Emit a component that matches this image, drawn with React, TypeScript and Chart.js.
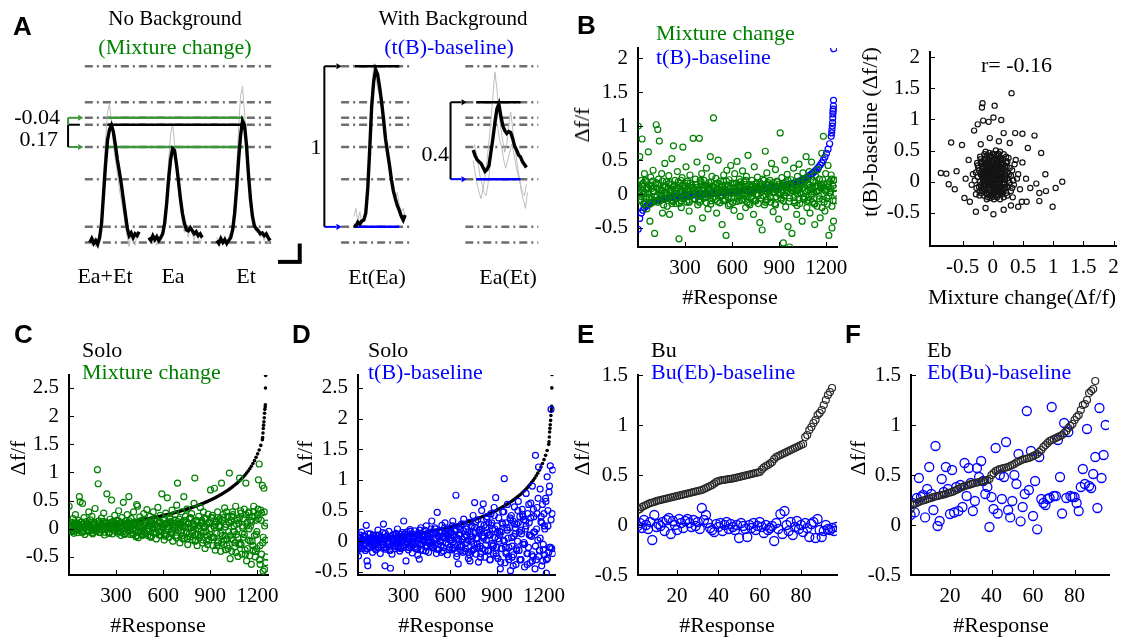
import React, { useEffect, useRef } from "react";
import { Chart, registerables } from "chart.js";

Chart.register(...registerables);

// ---------------- DATA ----------------
// Panel A: averaged traces (Δf/f), sampled every 2 frames
const traceMixEaEt = [-0.012, 0.012, -0.018, 0, -0.024, 0.018, 0.109, 0.291, 0.473, 0.624, 0.69, 0.718, 0.675, 0.594, 0.503, 0.43, 0.352, 0.261, 0.17, 0.079, 0.03, 0.048, 0.018, 0.042, 0.03, 0.055];
const traceEa = [0.018, 0, 0.03, 0.006, 0.024, 0, 0.018, 0.042, 0.109, 0.23, 0.382, 0.503, 0.572, 0.56, 0.473, 0.37, 0.261, 0.17, 0.109, 0.067, 0.061, 0.079, 0.061, 0.042, 0.055, 0.03, 0.042, 0.018];
const traceEt = [0, -0.018, 0.012, -0.012, 0.006, -0.018, 0, 0.018, 0.067, 0.17, 0.321, 0.503, 0.655, 0.745, 0.72, 0.594, 0.412, 0.261, 0.152, 0.091, 0.073, 0.061, 0.042, 0.048, 0.03, 0.042, 0.018, 0];
const traceEtInEa = [0.097, 0.091, 0.115, 0.103, 0.121, 0.127, 0.17, 0.321, 0.564, 0.836, 0.988, 1.065, 1.036, 0.958, 0.867, 0.758, 0.636, 0.552, 0.473, 0.382, 0.309, 0.261, 0.218, 0.188, 0.152, 0.127, 0.158];
const traceEaInEt = [0.564, 0.527, 0.503, 0.491, 0.479, 0.455, 0.43, 0.442, 0.467, 0.552, 0.636, 0.733, 0.818, 0.85, 0.776, 0.715, 0.685, 0.667, 0.679, 0.673, 0.636, 0.588, 0.564, 0.533, 0.521, 0.491, 0.473, 0.455];
// single-trial traces (gray)
const trialMixEaEt = [0.0, -0.03, 0.02, -0.04, 0.01, 0.03, 0.15, 0.4, 0.62, 0.8, 0.85, 0.74, 0.6, 0.5, 0.42, 0.32, 0.25, 0.18, 0.1, 0.02, -0.04, 0.06, 0.0, -0.03, 0.05, 0.02];
const trialEa = [0.0, 0.03, -0.02, 0.01, -0.03, 0.02, 0.0, 0.06, 0.15, 0.3, 0.5, 0.66, 0.73, 0.6, 0.45, 0.3, 0.2, 0.12, 0.05, 0.08, 0.02, 0.1, 0.04, 0.0, 0.06, 0.02, -0.02, 0.03];
const trialEt = [0.02, -0.03, 0.0, -0.02, 0.03, -0.04, 0.02, 0.05, 0.1, 0.25, 0.45, 0.7, 0.9, 0.96, 0.8, 0.62, 0.45, 0.3, 0.18, 0.1, 0.05, 0.08, 0.02, 0.04, 0.0, 0.05, -0.02, 0.01];
const trialEtInEa = [0.15, 0.2, 0.12, 0.18, 0.1, 0.14, 0.2, 0.35, 0.6, 0.9, 1.1, 1.02, 0.95, 0.9, 0.82, 0.7, 0.6, 0.5, 0.42, 0.35, 0.3, 0.25, 0.3, 0.22, 0.18, 0.2, 0.15];
const trialEaInEt1 = [0.5, 0.42, 0.35, 0.3, 0.26, 0.32, 0.4, 0.5, 0.62, 0.75, 0.9, 1.05, 0.95, 0.8, 0.7, 0.62, 0.55, 0.6, 0.72, 0.8, 0.7, 0.6, 0.5, 0.42, 0.35, 0.3, 0.28, 0.35];
const trialEaInEt2 = [0.6, 0.55, 0.48, 0.4, 0.35, 0.3, 0.28, 0.35, 0.45, 0.6, 0.7, 0.78, 0.7, 0.62, 0.58, 0.5, 0.45, 0.5, 0.55, 0.6, 0.55, 0.48, 0.42, 0.38, 0.3, 0.25, 0.2, 0.3];
const refLevels = [1.085, 0.861, 0.764, 0.721, 0.582, 0.382, 0.085, -0.012];
const mixPeakLevels = [0.764, 0.582]; // Et, Ea peaks (green)
const mixSumLevel = 0.721; // Ea+Et peak (black)
const etInEaLevels = [1.085, 0.085]; // peak, baseline
const eaInEtLevels = [0.861, 0.382];
const scaleBarLevels = [-0.018, -0.133];

// Panel B (left): sorted t(B)-baseline, every 10th response + tail
const bBaselineSorted = [-0.52, -0.36, -0.28, -0.24, -0.2, -0.18, -0.16, -0.145, -0.13, -0.12, -0.11, -0.1, -0.093, -0.087, -0.081, -0.076, -0.071, -0.066, -0.062, -0.058, -0.054, -0.05, -0.047, -0.044, -0.041, -0.038, -0.035, -0.032, -0.03, -0.027, -0.025, -0.022, -0.02, -0.018, -0.016, -0.013, -0.011, -0.009, -0.007, -0.005, -0.003, -0.001, 0.001, 0.003, 0.005, 0.007, 0.009, 0.011, 0.013, 0.015, 0.017, 0.019, 0.021, 0.023, 0.025, 0.027, 0.029, 0.031, 0.033, 0.035, 0.037, 0.039, 0.041, 0.043, 0.045, 0.047, 0.049, 0.051, 0.053, 0.055, 0.057, 0.059, 0.061, 0.063, 0.066, 0.068, 0.07, 0.073, 0.075, 0.078, 0.08, 0.083, 0.086, 0.089, 0.092, 0.095, 0.098, 0.101, 0.105, 0.109, 0.113, 0.117, 0.121, 0.126, 0.131, 0.136, 0.142, 0.148, 0.154, 0.161, 0.168, 0.176, 0.184, 0.193, 0.203, 0.214, 0.226, 0.239, 0.253, 0.268, 0.285, 0.303, 0.323, 0.345, 0.369, 0.396, 0.426, 0.46, 0.5, 0.545, 0.6, 0.66, 0.74, 0.85];
const bBaselineTail = [[1234, 0.9], [1236, 0.95], [1238, 1.0], [1240, 1.05], [1241, 1.12], [1242, 1.18], [1243, 1.22], [1244, 1.25], [1245, 1.3], [1246, 1.38], [1247, 2.14]];
// Mixture change, every 5th response
const bMixture = [
  1.0, 0.12, 0.55, -0.08, 0.2, 0.81, 0.05, -0.15, 0.3, 0.02, 0.18, -0.22,
  0.1, 0.62, -0.05, -0.4, 0.25, 0.08, -0.12, 0.35, 0.04, -0.58, 0.15, 1.02,
  -0.02, 0.95, 0.22, 0.78, -0.1, 0.06, 0.3, -0.28, 0.12, 0.01, 0.45, -0.06,
  0.18, -0.18, 0.09, 0.27, -0.3, 0.04, 0.14, 0.52, -0.09, 0.71, 0.02, 0.2,
  -0.14, 0.08, 0.33, -0.04, -0.66, 0.16, 0.05, -0.2, 0.24, 0.69, -0.07, 0.11,
  0.03, 0.4, -0.12, 0.19, 0.07, -0.25, 0.28, 0.0, 0.13, -0.51, 0.82, 0.06,
  -0.08, 0.22, 0.1, 0.47, -0.16, 0.05, 0.82, -0.03, 0.15, 0.3, -0.35, 0.09,
  0.2, -0.06, 0.12, 0.38, 0.02, -0.22, 0.17, 0.07, 0.55, -0.1, 0.26, 0.04,
  1.12, -0.04, 0.14, 0.23, -0.28, 0.08, 0.5, 0.01, -0.13, 0.19, 0.1, -0.45,
  0.06, 0.28, -0.09, 0.13, -0.61, 0.35, 0.03, -0.17, 0.21, 0.09, 0.42, -0.05,
  0.16, 0.02, -0.24, 0.3, 0.07, -0.11, 0.48, 0.12, -0.02, 0.22, -0.33, 0.05,
  0.1, 0.34, -0.07, 0.18, 0.0, -0.2, 0.26, 0.08, 0.57, -0.14, 0.13, 0.04,
  -0.05, 0.2, 0.11, -0.3, 0.4, 0.06, -0.1, 0.15, 0.25, -0.02, 0.09, -0.42,
  0.14, 0.03, -0.53, 0.22, 0.1, -0.16, 0.63, 0.05, 0.31, -0.08, 0.17, 0.01,
  0.2, -0.12, 0.45, 0.07, -0.26, 0.12, 0.02, 0.36, -0.04, 0.19, 0.08, -0.37,
  0.11, 0.9, -0.06, 0.24, 0.04, -0.72, 0.16, 0.5, -0.19, 0.07, 0.29, -0.48,
  0.13, -0.78, 0.02, 0.21, -0.58, 0.09, 0.38, -0.1, 0.17, 0.05, -0.3, 0.26,
  0.06, 0.44, -0.14, 0.19, 0.0, -0.4, 0.31, 0.1, -0.07, 0.23, 0.55, -0.2,
  0.15, -0.05, 0.33, -0.28, 0.08, 0.47, -0.12, 0.2, 0.03, -0.45, 0.27, 0.11,
  -0.18, 0.36, 0.05, 0.22, -0.35, 0.14, 0.6, -0.08, 0.85, 0.1, -0.25, 0.3,
  0.07, -0.15, 0.42, -0.61, 0.18, 0.02, 0.28, -0.5, 0.12, -0.4, 0.21, -0.1,
];
// Mixture change, responses 6, 16, 26 ... (dense core)
const bMixtureCore = [
  0.05, -0.1, 0.14, 0.0, 0.2, -0.06, 0.09, -0.15, 0.12, 0.03, -0.04, 0.17,
  -0.12, 0.07, 0.01, 0.19, -0.08, 0.1, -0.02, 0.15, 0.04, -0.14, 0.11, 0.06,
  -0.05, 0.18, 0.0, -0.1, 0.13, 0.08, -0.03, 0.16, -0.12, 0.05, 0.1, -0.07,
  0.14, 0.02, -0.09, 0.2, 0.06, -0.04, 0.12, -0.13, 0.08, 0.0, 0.17, -0.06,
  0.1, 0.03, -0.11, 0.15, 0.05, -0.02, 0.19, -0.08, 0.07, 0.12, -0.15, 0.04,
  0.09, -0.05, 0.16, 0.01, -0.1, 0.13, 0.06, -0.03, 0.2, -0.12, 0.08, 0.02,
  0.14, -0.07, 0.11, 0.0, -0.14, 0.17, 0.04, -0.02, 0.1, -0.09, 0.15, 0.06,
  -0.05, 0.12, 0.03, -0.16, 0.18, 0.07, -0.01, 0.13, -0.1, 0.09, 0.02, 0.2,
  -0.06, 0.11, 0.05, -0.13, 0.16, 0.0, -0.08, 0.14, 0.08, -0.04, 0.19, -0.11,
  0.06, 0.1, -0.02, 0.17, -0.15, 0.03, 0.12, -0.07, 0.09, 0.21, -0.12, 0.04,
  0.15, -0.03, 0.08, -0.18, 0.2, 0.01,
];
// Mixture change, responses 3, 13, 23 ...
const bMixtureCore2 = [
  0.1, -0.04, 0.02, 0.16, -0.12, 0.07, 0.0, 0.13, -0.07, 0.19, 0.04, -0.1,
  0.08, 0.15, -0.03, 0.05, -0.16, 0.11, 0.02, -0.06, 0.17, 0.06, -0.11, 0.13,
  0.01, 0.09, -0.14, 0.2, 0.03, -0.05, 0.12, 0.07, -0.09, 0.16, -0.01, 0.1,
  -0.07, 0.14, 0.05, -0.12, 0.18, 0.0, 0.09, -0.04, 0.13, 0.06, -0.15, 0.11,
  0.03, -0.08, 0.16, 0.07, -0.02, 0.12, -0.1, 0.05, 0.19, -0.05, 0.08, 0.01,
  -0.13, 0.15, 0.04, -0.06, 0.11, 0.18, -0.09, 0.02, 0.14, -0.03, 0.07, -0.16,
  0.1, 0.05, -0.1, 0.16, 0.0, 0.12, -0.06, 0.08, 0.2, -0.12, 0.03, 0.13,
  -0.04, 0.09, 0.17, -0.14, 0.06, 0.01, 0.15, -0.08, 0.11, -0.02, 0.18, 0.04,
  -0.11, 0.14, 0.07, -0.05, 0.12, -0.17, 0.1, 0.02, 0.16, -0.07, 0.05, 0.21,
  -0.09, 0.13, 0.0, 0.08, -0.14, 0.17, 0.04, -0.03, 0.11, -0.2, 0.15, 0.06,
  -0.06, 0.12, 0.02, 0.22, -0.1, 0.08,
];

// Panel B (right): [mixture change, t(B)-baseline] pairs
const bPairsCore = [
  [-0.02, 0.05], [0.05, 0.1], [-0.1, 0.0], [0.12, -0.05], [0.0, 0.2], [-0.15, 0.12], [0.08, 0.25], [-0.05, -0.1], [0.2, 0.05], [-0.2, -0.05],
  [0.03, -0.18], [0.15, 0.15], [-0.08, 0.3], [0.1, -0.12], [-0.12, 0.18], [0.25, -0.08], [0.02, 0.35], [-0.25, 0.08], [0.18, 0.28], [-0.03, -0.22],
  [0.06, 0.02], [-0.06, 0.08], [0.1, 0.08], [-0.14, -0.12], [0.22, -0.18], [0.0, -0.05], [-0.18, 0.25], [0.14, 0.38], [-0.1, 0.42], [0.3, 0.1],
  [0.04, 0.15], [-0.04, 0.22], [0.08, -0.2], [-0.22, -0.15], [0.16, -0.02], [-0.3, 0.02], [0.28, 0.22], [0.0, 0.45], [-0.08, -0.25], [0.12, 0.48],
  [0.07, 0.06], [-0.01, -0.02], [0.03, 0.28], [-0.16, 0.04], [0.19, 0.12], [-0.11, -0.18], [0.24, 0.32], [-0.06, 0.14], [0.11, 0.2], [-0.02, 0.12],
  [0.05, -0.08], [-0.09, 0.06], [0.15, -0.15], [-0.19, 0.16], [0.01, 0.08], [0.09, 0.32], [-0.13, 0.35], [0.21, -0.1], [-0.04, 0.0], [0.13, 0.02],
  [0.35, -0.05], [-0.27, -0.1], [0.02, -0.28], [0.32, 0.18], [-0.2, 0.3], [0.06, 0.42], [-0.05, 0.38], [0.18, -0.25], [-0.15, -0.22], [0.26, 0.02],
  [0.0, 0.1], [-0.07, 0.18], [0.04, -0.12], [0.1, 0.12], [-0.12, 0.1], [0.17, 0.22], [-0.02, -0.15], [0.08, 0.18], [-0.17, -0.02], [0.14, -0.08],
  [0.4, 0.05], [-0.33, 0.12], [0.22, 0.4], [-0.24, 0.22], [0.3, -0.15], [0.05, 0.5], [-0.1, -0.28], [0.36, 0.28], [-0.28, -0.2], [0.12, -0.28],
  [0.01, 0.18], [-0.05, 0.28], [0.07, -0.02], [-0.14, 0.22], [0.2, 0.18], [-0.08, -0.06], [0.11, -0.05], [-0.03, 0.32], [0.16, 0.08], [-0.18, 0.08],
  [0.45, -0.12], [-0.35, -0.05], [0.38, 0.35], [0.24, -0.22], [-0.21, 0.4], [0.09, 0.45], [-0.12, 0.48], [0.33, -0.25], [0.42, 0.12], [-0.26, 0.3],
  [0.03, 0.03], [-0.09, 0.12], [0.06, 0.22], [0.13, -0.18], [-0.01, 0.26], [0.19, -0.05], [-0.15, 0.0], [0.02, -0.08], [0.08, 0.1], [-0.06, -0.18],
  [0.27, 0.12], [-0.23, -0.08], [0.15, 0.3], [-0.1, 0.25], [0.05, -0.22], [0.23, 0.25], [-0.19, -0.18], [0.34, 0.02], [-0.04, 0.42], [0.1, 0.38],
];
const bPairsCore2 = [
  [0.0, 0.0], [-0.05, 0.05], [0.04, 0.12], [-0.08, 0.15], [0.1, 0.0], [-0.12, -0.04], [0.06, -0.1], [-0.03, 0.2], [0.14, 0.08], [-0.16, 0.08],
  [0.02, -0.06], [-0.1, 0.22], [0.08, 0.3], [-0.14, 0.28], [0.18, -0.12], [-0.06, -0.14], [0.12, 0.25], [-0.2, 0.12], [0.0, 0.3], [0.16, 0.2],
  [-0.04, 0.1], [0.07, 0.16], [-0.09, -0.1], [0.11, -0.16], [-0.17, 0.2], [0.03, 0.38], [-0.07, 0.34], [0.21, 0.1], [-0.11, 0.04], [0.05, 0.06],
  [-0.02, -0.2], [0.09, -0.04], [-0.13, 0.16], [0.17, 0.35], [-0.21, 0.0], [0.01, 0.24], [0.13, 0.14], [-0.08, 0.26], [0.04, -0.16], [-0.15, -0.08],
  [0.2, 0.24], [-0.01, 0.14], [0.06, 0.28], [-0.18, 0.32], [0.1, 0.42], [-0.06, 0.46], [0.25, 0.15], [-0.23, 0.18], [0.15, -0.2], [-0.1, -0.2],
  [0.03, 0.09], [-0.05, 0.18], [0.08, 0.04], [-0.12, 0.3], [0.12, 0.34], [-0.02, 0.4], [0.19, -0.02], [-0.19, -0.1], [0.07, -0.25], [-0.04, -0.26],
  [0.0, 0.16], [-0.07, 0.0], [0.05, 0.2], [-0.11, 0.12], [0.09, 0.22], [-0.03, 0.06], [0.14, -0.1], [-0.16, 0.24], [0.11, 0.06], [-0.09, 0.38],
  [0.22, 0.3], [-0.25, 0.26], [0.28, -0.02], [-0.22, -0.22], [0.02, 0.44], [-0.14, 0.44], [0.26, 0.38], [0.32, -0.1], [-0.28, 0.15], [0.18, 0.44],
  [0.01, -0.1], [-0.06, 0.24], [0.1, 0.18], [-0.13, 0.06], [0.15, 0.04], [-0.01, 0.34], [0.06, -0.14], [-0.17, -0.14], [0.2, -0.08], [-0.08, 0.1],
  [0.04, 0.02], [-0.1, 0.08], [0.13, 0.28], [-0.05, -0.04], [0.08, 0.36], [-0.2, 0.36], [0.24, 0.06], [-0.15, 0.14], [0.0, -0.24], [0.17, -0.16],
];
const bPairsOutliers = [
  [0.31, 1.42], [-0.17, 1.26], [-0.18, 1.19], [0.03, 1.22], [0.01, 1.03], [-0.16, 0.98], [-0.07, 0.96], [0.14, 0.99], [-0.25, 0.92],
  [-0.69, 0.63], [-0.51, 0.59], [-0.31, 0.82], [0.18, 0.78], [0.37, 0.78], [0.49, 0.77], [0.69, 0.74], [0.58, 0.54], [0.8, 0.46], [0.49, 0.31],
  [0.87, 0.12], [1.15, 0.0], [1.04, -0.1], [0.99, -0.4], [0.77, -0.31], [0.56, -0.32], [0.48, -0.32], [-0.28, -0.48], [0.01, -0.52], [0.18, -0.45],
  [-0.86, 0.14], [-0.77, 0.13], [-0.73, -0.04], [-0.63, -0.12], [-0.47, -0.26], [-0.6, 0.17], [0.72, -0.03], [0.88, -0.15], [0.77, -0.18],
  [-0.4, 0.35], [-0.45, 0.05], [0.55, 0.05], [0.62, -0.1], [-0.38, -0.32], [0.28, 0.62], [-0.05, 0.7], [0.1, 0.65], [-0.2, 0.6], [0.42, -0.4], [0.3, -0.38], [-0.12, -0.42],
];

// Panels C, D: sorted solo responses, every 10th response + tail
const soloSorted = [-0.06, -0.04, -0.03, -0.02, -0.01, -0.005, 0.0, 0.004, 0.008, 0.012, 0.016, 0.02, 0.024, 0.028, 0.031, 0.035, 0.038, 0.041, 0.045, 0.048, 0.051, 0.055, 0.058, 0.061, 0.065, 0.068, 0.072, 0.075, 0.079, 0.083, 0.087, 0.09, 0.094, 0.098, 0.102, 0.106, 0.11, 0.114, 0.119, 0.123, 0.128, 0.132, 0.137, 0.142, 0.147, 0.152, 0.157, 0.162, 0.167, 0.172, 0.178, 0.183, 0.189, 0.194, 0.2, 0.206, 0.212, 0.218, 0.224, 0.23, 0.237, 0.243, 0.25, 0.257, 0.264, 0.271, 0.278, 0.285, 0.292, 0.3, 0.308, 0.316, 0.324, 0.332, 0.34, 0.349, 0.358, 0.367, 0.376, 0.386, 0.396, 0.406, 0.416, 0.427, 0.438, 0.449, 0.461, 0.473, 0.485, 0.498, 0.511, 0.524, 0.538, 0.552, 0.567, 0.582, 0.598, 0.614, 0.631, 0.648, 0.666, 0.685, 0.704, 0.724, 0.745, 0.767, 0.79, 0.814, 0.839, 0.866, 0.894, 0.924, 0.956, 0.99, 1.027, 1.067, 1.11, 1.158, 1.21, 1.268, 1.33, 1.4, 1.48, 1.58];
const soloTail = [[1233, 1.62], [1235, 1.7], [1237, 1.78], [1239, 1.84], [1241, 1.9], [1243, 1.97], [1245, 2.05], [1247, 2.12], [1249, 2.16], [1250, 2.2], [1251, 2.5], [1252, 2.72]];

// Panel C: mixture change, every 5th response + cores every 10th
const cMixture = [
  0.4, 0.05, -0.04, 0.12, 0.02, 0.18, -0.08, 0.07, 0.25, -0.02, 0.1, 0.0,
  0.15, 0.57, 0.48, 0.03, -0.06, 0.45, 0.08, 0.2, -0.1, 0.04, 0.13, -0.03,
  0.09, 0.3, -0.05, 0.16, 0.01, 0.22, -0.09, 0.06, 0.11, 0.36, -0.04, 0.02,
  1.05, 0.8, 0.14, -0.07, 0.05, 0.19, -0.02, 0.1, 0.28, -0.11, 0.03, 0.12,
  0.62, 0.0, 0.08, -0.06, 0.17, 0.04, 0.51, -0.09, 0.13, 0.02, 0.24, -0.04,
  0.07, 0.15, -0.08, 0.32, 0.03, 0.11, -0.12, 0.2, 0.05, 0.47, -0.03, 0.09,
  0.14, -0.06, 0.25, 0.02, 0.57, 0.1, -0.1, 0.18, 0.06, -0.02, 0.3, 0.08,
  0.12, -0.14, 0.43, 0.4, -0.16, 0.05, 0.21, -0.05, 0.15, 0.02, -0.1, 0.27,
  0.06, -0.07, 0.16, 0.34, -0.12, 0.09, 0.0, 0.22, -0.15, 0.11, 0.04, 0.3,
  -0.08, 0.18, 0.07, -0.18, 0.13, 0.38, -0.05, 0.1, 0.24, -0.12, 0.62, 0.03,
  0.15, -0.2, 0.08, 0.28, -0.1, 0.55, 0.04, -0.15, 0.2, 0.12, -0.06, 0.33,
  -0.22, 0.1, 0.02, 0.25, -0.12, 0.42, 0.81, -0.03, 0.17, -0.25, 0.06, 0.3,
  0.12, -0.18, 0.57, 0.04, 0.22, -0.08, 0.35, -0.28, 0.1, 0.18, -0.14, 0.02,
  0.27, -0.2, 0.08, 0.45, 0.9, -0.1, 0.15, -0.3, 0.05, 0.22, -0.16, 0.38,
  -0.05, 0.12, -0.25, 0.3, 0.02, -0.35, 0.18, 0.08, -0.12, 0.26, -0.2, 0.1,
  0.69, -0.15, 0.2, -0.3, 0.05, 0.72, -0.38, 0.14, -0.08, 0.3, -0.22, 0.04,
  0.18, -0.4, 0.81, -0.12, 0.25, -0.28, 0.37, -0.37, 0.08, -0.18, 0.22, -0.05,
  0.99, -0.53, 0.15, -0.4, 0.3, -0.2, 0.05, -0.32, 0.4, -0.1, 0.18, -0.49,
  0.1, 0.9, -0.26, 0.28, -0.45, 0.02, -0.15, 0.35, -0.38, 0.81, -0.57, 0.12,
  -0.2, 0.3, -0.48, 0.05, -0.63, 0.22, -0.3, 0.4, -0.12, -0.5, 0.15, -0.35,
  0.25, 0.87, 1.15, -0.63, 0.33, -0.45, 0.77, -0.75, 0.72, -0.72, -0.2, 0.1,
];
const cMixtureCore = [
  0.03, -0.05, 0.08, 0.0, 0.1, -0.03, 0.05, 0.12, -0.06, 0.02, 0.07, -0.02,
  0.09, 0.01, -0.07, 0.06, 0.11, -0.04, 0.03, 0.08, -0.01, 0.13, -0.06, 0.04,
  0.06, -0.08, 0.1, 0.02, -0.03, 0.09, 0.0, 0.14, -0.05, 0.05, 0.08, -0.09,
  0.03, 0.11, -0.04, 0.07, -0.1, 0.12, 0.01, -0.06, 0.09, 0.04, -0.12, 0.06,
  0.1, -0.03, 0.05, -0.13, 0.14, 0.0, 0.08, -0.08, 0.03, 0.12, -0.05, 0.02,
  -0.1, 0.09, 0.04, -0.15, 0.13, -0.02, 0.07, 0.16, -0.12, 0.01, 0.1, -0.07,
  0.05, -0.17, 0.12, 0.02, -0.09, 0.18, -0.04, 0.08, -0.2, 0.11, 0.0, -0.12,
  0.15, -0.06, 0.04, -0.22, 0.1, -0.1, 0.2, -0.15, 0.02, 0.12, -0.25, 0.06,
  -0.08, 0.16, -0.2, 0.03, -0.3, 0.12, -0.12, 0.22, -0.05, -0.25, 0.08, -0.15,
  0.2, -0.28, 0.05, -0.1, 0.25, -0.35, 0.0, 0.15, -0.22, 0.3, -0.4, -0.05,
  0.18, -0.3, 0.28, -0.15, 0.05, -0.5,
];
const cMixtureCore2 = [
  0.06, 0.0, -0.04, 0.1, 0.03, -0.07, 0.08, 0.01, 0.12, -0.03, 0.05, 0.09,
  -0.05, 0.04, 0.11, -0.02, 0.07, 0.0, 0.13, -0.06, 0.03, 0.08, -0.01, 0.1,
  0.02, -0.08, 0.06, 0.12, -0.03, 0.04, 0.09, -0.05, 0.01, 0.11, 0.05, -0.1,
  0.08, -0.02, 0.14, 0.03, -0.07, 0.06, 0.1, -0.12, 0.02, 0.13, -0.04, 0.07,
  -0.09, 0.11, 0.0, 0.05, -0.14, 0.09, 0.15, -0.06, 0.03, -0.11, 0.12, 0.04,
  0.07, -0.13, 0.1, -0.02, 0.17, -0.09, 0.05, 0.01, -0.16, 0.13, 0.08, -0.04,
  -0.12, 0.15, 0.02, -0.18, 0.09, 0.2, -0.07, 0.04, -0.22, 0.14, -0.1, 0.06,
  0.1, -0.2, 0.18, -0.05, -0.28, 0.12, 0.0, 0.24, -0.15, 0.08, -0.3, 0.16,
  0.04, -0.24, 0.2, -0.12, 0.3, -0.35, 0.1, -0.18, 0.25, -0.05, -0.42, 0.15,
  -0.28, 0.32, -0.08, 0.18, -0.45, 0.05, 0.28, -0.22, 0.12, -0.38, 0.22, -0.1,
  0.35, -0.55, 0.15, -0.25, 0.3, -0.6,
];

// Panel D: t(B)-baseline, every 5th response + cores every 10th
const dBaseline = [
  -0.17, 0.05, -0.24, -0.08, 0.1, -0.02, 0.15, -0.12, 0.03, -0.05, 0.08, -0.15,
  0.26, -0.32, -0.4, 0.0, -0.1, 0.12, -0.04, 0.06, -0.18, 0.09, -0.07, 0.02,
  -0.13, 0.1, -0.03, 0.18, -0.09, 0.04, -0.2, 0.07, -0.01, 0.14, 0.28, -0.06,
  -0.4, 0.03, -0.11, 0.08, -0.04, 0.16, -0.15, -0.44, 0.05, -0.21, 0.1, -0.07,
  0.02, -0.12, 0.13, -0.02, 0.2, -0.09, 0.06, -0.16, 0.11, -0.03, 0.07, -0.1,
  0.33, -0.05, 0.09, -0.32, 0.15, -0.01, -0.14, 0.04, 0.19, -0.08, 0.12, -0.19,
  0.05, -0.06, 0.17, -0.12, 0.08, 0.02, -0.23, 0.11, -0.29, 0.06, 0.22, -0.04,
  0.1, -0.15, 0.03, 0.18, -0.08, 0.25, -0.02, 0.13, -0.18, 0.07, 0.0, 0.2,
  0.33, -0.1, 0.14, -0.05, 0.22, 0.04, -0.2, 0.47, 0.09, -0.13, 0.17, 0.01,
  -0.07, 0.26, 0.06, -0.16, 0.12, 0.3, -0.03, 0.19, -0.22, 0.08, 0.14, -0.1,
  0.21, 0.02, -0.14, 0.33, 0.1, -0.06, 0.18, 0.75, -0.25, 0.05, -0.37, 0.24,
  0.12, -0.09, 0.28, 0.03, -0.18, 0.36, 0.07, -0.12, 0.2, -0.02, 0.15, -0.28,
  0.31, -0.32, 0.09, -0.16, 0.25, 0.42, -0.05, 0.63, 0.14, -0.21, 0.04, 0.35,
  -0.34, 0.18, -0.08, 0.27, 0.5, -0.12, 0.61, 0.08, -0.26, 0.22, 0.02, 0.4,
  -0.15, 0.3, 0.11, -0.3, 0.45, -0.04, 0.2, -0.2, 0.55, 0.06, 0.71, -0.1,
  0.25, -0.28, 0.38, 0.1, -0.45, 0.15, -0.12, 0.48, 0.02, 1.02, -0.35, 0.3,
  -0.18, 0.6, 0.05, -0.3, 0.22, -0.48, 0.42, -0.08, 0.33, -0.22, 0.56, 0.12,
  -0.38, 0.28, 0.0, 0.65, -0.15, 0.4, -0.3, 0.18, 0.52, -0.05, 0.35, -0.42,
  0.2, 0.78, -0.2, 0.45, -0.1, 0.3, -0.35, 0.62, 0.08, 0.9, -0.25, 0.4,
  0.15, 1.4, -0.3, 0.55, 0.02, 1.21, -0.15, 0.85, 0.32, -0.4, 0.6, -0.05,
  0.45, -0.22, 0.7, -0.52, 1.05, 0.25, -0.18, 0.9, 1.23, 2.15, -0.12, 1.16,
];
const dBaselineCore = [
  -0.03, 0.06, -0.09, 0.02, -0.05, 0.08, -0.12, 0.0, 0.04, -0.07, 0.1, -0.02,
  0.05, -0.1, 0.01, 0.07, -0.06, 0.03, -0.13, 0.09, -0.01, -0.08, 0.04, 0.11,
  -0.04, 0.02, -0.11, 0.08, 0.0, -0.07, 0.12, -0.03, 0.05, -0.1, 0.07, -0.05,
  0.09, -0.02, -0.12, 0.04, 0.13, -0.06, 0.01, 0.1, -0.09, 0.06, -0.03, 0.15,
  -0.08, 0.03, 0.12, -0.13, 0.07, -0.01, 0.16, -0.1, 0.05, 0.11, -0.05, 0.02,
  0.14, -0.12, 0.06, 0.2, -0.07, 0.1, -0.15, 0.03, 0.17, -0.04, 0.09, -0.18,
  0.12, 0.0, -0.14, 0.22, 0.05, -0.1, 0.18, -0.2, 0.08, 0.26, -0.06, 0.14,
  -0.16, 0.1, 0.3, -0.08, 0.2, -0.24, 0.04, 0.16, -0.12, 0.28, 0.0, -0.2,
  0.18, -0.1, 0.35, -0.26, 0.08, 0.22, -0.15, 0.3, -0.3, 0.12, 0.4, -0.05,
  0.25, -0.2, 0.1, 0.38, -0.32, 0.15, -0.08, 0.45, -0.25, 0.05, 0.3, -0.14,
  0.2, -0.3, 0.5, -0.1, 0.35, -0.2,
];
const dBaselineCore2 = [
  0.02, -0.07, 0.05, -0.12, 0.09, -0.03, 0.0, 0.12, -0.09, 0.04, -0.05, 0.07,
  -0.14, 0.01, 0.1, -0.06, 0.03, -0.1, 0.13, -0.02, 0.06, -0.15, 0.08, 0.0,
  -0.08, 0.11, -0.03, 0.05, -0.12, 0.14, 0.02, -0.06, 0.09, -0.1, 0.16, -0.01,
  0.04, -0.09, 0.12, -0.04, 0.18, -0.13, 0.07, 0.0, -0.16, 0.1, 0.03, -0.07,
  0.13, -0.11, 0.2, 0.05, -0.05, 0.15, -0.18, 0.08, 0.22, -0.02, 0.11, -0.14,
  0.06, 0.25, -0.1, 0.16, -0.2, 0.03, 0.19, -0.08, 0.28, -0.16, 0.1, 0.02,
  -0.22, 0.24, 0.07, -0.12, 0.32, -0.04, 0.15, -0.26, 0.2, 0.05, -0.15, 0.36,
  0.1, -0.3, 0.26, -0.06, 0.42, -0.2, 0.14, 0.0, -0.34, 0.3, 0.48, -0.1,
  0.22, -0.25, 0.38, 0.06, -0.4, 0.28, -0.12, 0.5, 0.15, -0.3, 0.44, -0.02,
  0.33, -0.38, 0.6, 0.1, -0.22, 0.52, -0.45, 0.2, 0.7, -0.15, 0.4, -0.32,
  0.25, 0.65, -0.28, 0.8, -0.1, 0.45,
];

// Panel E: Bu sorted, Bu(Eb)-baseline (responses 1..)
const eBuSorted = [0.15, 0.16, 0.18, 0.19, 0.2, 0.21, 0.22, 0.225, 0.23, 0.24, 0.245, 0.25, 0.255, 0.26, 0.265, 0.27, 0.275, 0.28, 0.285, 0.29, 0.295, 0.3, 0.305, 0.31, 0.315, 0.32, 0.325, 0.33, 0.335, 0.34, 0.345, 0.35, 0.36, 0.37, 0.38, 0.39, 0.4, 0.415, 0.43, 0.44, 0.445, 0.45, 0.452, 0.455, 0.46, 0.462, 0.465, 0.47, 0.475, 0.48, 0.485, 0.49, 0.495, 0.5, 0.505, 0.51, 0.515, 0.52, 0.525, 0.53, 0.555, 0.575, 0.59, 0.6, 0.615, 0.63, 0.66, 0.68, 0.69, 0.7, 0.71, 0.72, 0.73, 0.74, 0.75, 0.76, 0.77, 0.78, 0.79, 0.8, 0.81, 0.88, 0.9, 0.95, 0.98, 1.02, 1.05, 1.1, 1.12, 1.15, 1.2, 1.25, 1.3, 1.33, 1.37];
const eBuInEb = [
  -0.01, 0.02, -0.03, 0.05, 0.0, -0.04, 0.03, -0.15, 0.1, -0.02, 0.01, -0.01,
  0.03, -0.06, 0.05, 0.07, -0.09, 0.04, 0.0, -0.05, 0.06, 0.02, -0.03, 0.04,
  0.06, 0.02, -0.02, 0.05, -0.01, 0.03, -0.04, 0.17, 0.05, 0.1, 0.02, -0.03,
  -0.05, -0.07, 0.01, -0.02, 0.02, -0.06, 0.0, 0.03, -0.04, 0.01, -0.02, -0.05,
  0.0, -0.13, 0.02, -0.01, -0.04, -0.12, 0.0, -0.03, 0.02, -0.05, -0.01, 0.03,
  -0.02, -0.08, 0.0, -0.05, -0.03, -0.01, -0.16, 0.02, -0.04, 0.11, -0.09, 0.14,
  0.0, -0.06, 0.03, -0.1, -0.02, 0.04, -0.04, 0.0, -0.07, 0.02, -0.03, -0.12,
  0.01, 0.03, -0.13, 0.06, -0.05, -0.12, -0.06, 0.0, -0.04, -0.05, -0.03, -0.06, -0.02,
];

// Panel F: Eb sorted, Eb(Bu)-baseline
const fEbSorted = [0.16, 0.2, 0.21, 0.22, 0.23, 0.24, 0.245, 0.25, 0.26, 0.265, 0.27, 0.28, 0.285, 0.29, 0.295, 0.3, 0.305, 0.31, 0.32, 0.325, 0.33, 0.34, 0.35, 0.36, 0.37, 0.38, 0.39, 0.395, 0.4, 0.41, 0.415, 0.42, 0.425, 0.43, 0.435, 0.44, 0.445, 0.45, 0.46, 0.5, 0.52, 0.54, 0.55, 0.56, 0.565, 0.57, 0.575, 0.58, 0.59, 0.6, 0.61, 0.625, 0.635, 0.645, 0.655, 0.66, 0.665, 0.67, 0.68, 0.69, 0.7, 0.71, 0.73, 0.75, 0.78, 0.8, 0.82, 0.84, 0.85, 0.86, 0.87, 0.88, 0.89, 0.9, 0.92, 0.94, 0.97, 0.99, 1.01, 1.05, 1.08, 1.1, 1.15, 1.2, 1.21, 1.25, 1.32, 1.34, 1.36, 1.44];
const fEbInBu = [
  0.1, 0.22, 0.126, 0.27, 0.47, 0.28, 0.3, 0.076, 0.36, 0.58, 0.31, 0.15,
  0.79, -0.01, 0.04, 0.46, 0.33, 0.58, 0.36, 0.11, 0.55, 0.125, 0.38, 0.14,
  0.4, 0.18, 0.62, 0.29, 0.57, 0.42, 0.14, 0.24, 0.57, 0.48, 0.64, 0.44,
  0.31, 0.38, -0.02, 0.28, 0.16, 0.77, 0.115, 0.5, 0.26, 0.48, 0.83, 0.15,
  0.076, 0.24, 0.5, 0.41, 0.71, 0.037, 0.18, 0.31, 1.14, 0.35, 0.74, 0.09,
  0.44, -0.043, 0.68, 0.26, 0.22, 0.2, 0.26, 0.27, 1.18, 0.29, 0.29, 0.85,
  0.48, 0.115, 1.02, 0.27, 0.93, 0.29, 0.28, 0.28, 0.22, 0.14, 0.38, 0.56,
  0.41, 0.96, 0.39, 0.37, 0.51, 0.68, 0.17, 1.17, 0.47, 0.7, 1.0,
];

// Axis ticks
const responseTicks = [300, 600, 900, 1200];
const countTicks = [20, 40, 60, 80];
const ticksB = [-0.5, 0, 0.5, 1, 1.5, 2];
const ticksCD = [-0.5, 0, 0.5, 1, 1.5, 2, 2.5];
const ticksEF = [-0.5, 0, 0.5, 1, 1.5];

// ---------------- STYLE ----------------
const SERIF = '"Liberation Serif", "Times New Roman", serif';
const SANS = '"Liberation Sans", Arial, sans-serif';
const GREEN = "rgb(0,128,0)";
const BLUE = "rgb(0,0,255)";
const GRAY = "#6e6e6e";

const byIndex = (start: number, step: number) => (v: number, i: number) => ({ x: start + step * i, y: v });
const pairPts = (p: number[][]) => p.map(([x, y]) => ({ x, y }));

const inwardTicks = {
  id: "inwardTicks",
  afterDraw(chart: any) {
    const { ctx, chartArea, scales } = chart;
    ctx.save();
    ctx.strokeStyle = "#000";
    ctx.lineWidth = 1;
    scales.x.ticks.forEach((t: any) => {
      const px = Math.round(scales.x.getPixelForValue(t.value)) + 0.5;
      ctx.beginPath();
      ctx.moveTo(px, chartArea.bottom);
      ctx.lineTo(px, chartArea.bottom - 5);
      ctx.stroke();
    });
    scales.y.ticks.forEach((t: any) => {
      const py = Math.round(scales.y.getPixelForValue(t.value)) + 0.5;
      ctx.beginPath();
      ctx.moveTo(chartArea.left, py);
      ctx.lineTo(chartArea.left + 5, py);
      ctx.stroke();
    });
    ctx.restore();
  },
};

const circles = (data: any[], color: string, r: number, w = 1.2) => ({
  data,
  pointStyle: "circle",
  pointRadius: r,
  pointBorderWidth: w,
  pointBorderColor: color,
  pointBackgroundColor: "rgba(0,0,0,0)",
  showLine: false,
});
const dots = (data: any[], color: string, r: number) => ({
  data,
  pointStyle: "circle",
  pointRadius: r,
  pointBorderWidth: 0,
  pointBorderColor: color,
  pointBackgroundColor: color,
  showLine: false,
});

type Panel = {
  box: [number, number, number, number]; // canvas left, top, width, height (page px)
  area: [number, number, number, number]; // plot area left, top, right, bottom (page px)
  x: [number, number, number[]];
  y: [number, number, number[]];
  datasets: any[];
};

function scatterConfig(p: Panel) {
  const [cl, ct, cw, ch] = p.box;
  const [L, T, R, B] = p.area;
  const tickFont = { family: SERIF, size: 21 };
  const axis = (rng: [number, number, number[]], isX: boolean) => ({
    type: "linear",
    position: isX ? "bottom" : "left",
    min: rng[0],
    max: rng[1],
    grid: { display: false, drawTicks: false },
    border: { display: true, color: "#000", width: 2 },
    ticks: { padding: isX ? 9 : 10, color: "#000", font: tickFont, autoSkip: false, maxRotation: 0, callback: (v: any) => String(v) },
    afterBuildTicks: (s: any) => {
      s.ticks = rng[2].map((v) => ({ value: v }));
    },
    afterFit: (s: any) => {
      if (isX) s.height = ct + ch - B;
      else s.width = L - cl;
    },
  });
  return {
    type: "scatter",
    data: { datasets: p.datasets },
    options: {
      animation: false,
      responsive: false,
      devicePixelRatio: 1,
      events: [],
      layout: { padding: { left: 0, top: T - ct, right: cl + cw - R, bottom: 0 } },
      plugins: { legend: { display: false }, tooltip: { enabled: false } },
      scales: { x: axis(p.x, true), y: axis(p.y, false) },
    },
    plugins: [inwardTicks],
  };
}

// Panel A (schematic traces). x unit: frames (2 per sample), y: Δf/f
const A_BOX: [number, number, number, number] = [0, 0, 560, 300];
function panelAConfig() {
  const line = (data: any[], color: string, width: number, dash: number[] = []) => ({
    data,
    showLine: true,
    borderColor: color,
    borderWidth: width,
    borderDash: dash,
    pointRadius: 0,
    clip: false,
    tension: 0,
  });
  const seg = (x0: number, x1: number, v: number) => [{ x: x0, y: v }, { x: x1, y: v }];
  const vseg = (x: number, v0: number, v1: number) => [{ x, y: v0 }, { x, y: v1 }];
  const arrow = (x: number, v: number, color: string) => ({
    data: [{ x, y: v }],
    showLine: false,
    pointStyle: "triangle",
    pointRotation: 90,
    pointRadius: 3.5,
    pointBorderWidth: 0,
    pointBackgroundColor: color,
    clip: false,
  });
  const LG = "rgb(60,150,60)";
  const TG = "#bdbdbd";
  const traces = [
    line(traceMixEaEt.map(byIndex(87, 2)), "#000", 3.4),
    line(traceEa.map(byIndex(147, 2)), "#000", 3.4),
    line(traceEt.map(byIndex(216, 2)), "#000", 3.4),
    line(traceEtInEa.map(byIndex(355, 2)), "#000", 3.4),
    line(traceEaInEt.map(byIndex(476, 2)), "#000", 3.4),
  ];
  const trials = [
    line(trialMixEaEt.map(byIndex(87, 2)), TG, 1),
    line(trialEa.map(byIndex(147, 2)), TG, 1),
    line(trialEt.map(byIndex(216, 2)), TG, 1),
    line(trialEtInEa.map(byIndex(355, 2)), TG, 1),
    line(trialEaInEt1.map(byIndex(476, 2)), TG, 1),
    line(trialEaInEt2.map(byIndex(477, 2)), TG, 1),
  ];
  const marks = [
    line(seg(105, 243, mixPeakLevels[0]), LG, 2.5),
    line(seg(105, 243, mixPeakLevels[1]), LG, 2.5),
    line(seg(105, 243, mixSumLevel), "#000", 2.5),
    line(seg(356, 401, etInEaLevels[0]), "#000", 2.5),
    line(seg(355, 401, etInEaLevels[1]), BLUE, 2.5),
    line(seg(479, 524, eaInEtLevels[0]), "#000", 2.5),
    line(seg(479, 524, eaInEtLevels[1]), BLUE, 2.5),
    // left bracket
    line(vseg(65, mixPeakLevels[0], mixSumLevel), LG, 2),
    line(vseg(65, mixSumLevel, mixPeakLevels[1]), "#000", 2),
    line(seg(65, 75, mixPeakLevels[0]), LG, 2),
    line(seg(65, 75, mixPeakLevels[1]), LG, 2),
    line(seg(65, 77, mixSumLevel), "#000", 2),
    arrow(77, mixPeakLevels[0], LG),
    arrow(77, mixPeakLevels[1], LG),
    // middle bracket
    line(vseg(325, etInEaLevels[0], etInEaLevels[1]), "#000", 2),
    line(seg(325, 337, etInEaLevels[0]), "#000", 2),
    line(seg(325, 337, etInEaLevels[1]), BLUE, 2),
    arrow(339, etInEaLevels[0], "#000"),
    arrow(339, etInEaLevels[1], BLUE),
    // right bracket
    line(vseg(453, eaInEtLevels[0], eaInEtLevels[1]), "#000", 2),
    line(seg(453, 464, eaInEtLevels[0]), "#000", 2),
    line(seg(453, 464, eaInEtLevels[1]), BLUE, 2),
    arrow(466, eaInEtLevels[0], "#000"),
    arrow(466, eaInEtLevels[1], BLUE),
    // scale bar
    line(vseg(300, scaleBarLevels[0], scaleBarLevels[1]), "#000", 4),
    line(seg(278, 302, scaleBarLevels[1]), "#000", 4),
  ];
  const grays: any[] = [];
  refLevels.forEach((v) => {
    [[82, 271], [342, 415], [468, 542]].forEach(([a, b]) => grays.push(line(seg(a, b, v), GRAY, 2.5, [8, 4, 2, 4])));
  });
  const [, , w, h] = A_BOX;
  return {
    type: "scatter",
    data: { datasets: [...traces, ...marks, ...trials, ...grays] },
    options: {
      animation: false,
      responsive: false,
      devicePixelRatio: 1,
      events: [],
      layout: { padding: 0 },
      plugins: { legend: { display: false }, tooltip: { enabled: false } },
      scales: {
        x: { type: "linear", display: false, min: 0, max: w },
        y: { type: "linear", display: false, min: (243 - h) / 165, max: 243 / 165 },
      },
    },
  };
}

const soloPts = [...soloSorted.map(byIndex(1, 10)), ...pairPts(soloTail)];

const panels: Panel[] = [
  {
    box: [585, 0, 275, 300],
    area: [638, 48, 837, 247],
    x: [0, 1268, responseTicks],
    y: [-0.78, 2.15, ticksB],
    datasets: [
      circles([...bMixture.map(byIndex(1, 5)), ...bMixtureCore.map(byIndex(6, 10)), ...bMixtureCore2.map(byIndex(3, 10))], GREEN, 3, 1.2),
      circles([...bBaselineSorted.map(byIndex(1, 10)), ...pairPts(bBaselineTail)], BLUE, 3, 1.2),
    ],
  },
  {
    box: [875, 0, 253, 300],
    area: [930, 52, 1120, 246],
    x: [-1.04, 2.05, ticksB],
    y: [-1.03, 2.08, ticksB],
    datasets: [circles([...pairPts(bPairsCore), ...pairPts(bPairsCore2), ...pairPts(bPairsOutliers)], "rgb(20,20,20)", 2.6, 1.2)],
  },
  {
    box: [0, 310, 290, 330],
    area: [69, 375, 268, 575],
    x: [0, 1267, responseTicks],
    y: [-0.82, 2.73, ticksCD],
    datasets: [
      circles([...cMixture.map(byIndex(1, 5)), ...cMixtureCore.map(byIndex(6, 10)), ...cMixtureCore2.map(byIndex(3, 10))], GREEN, 3, 1.2),
      dots(soloPts, "#000", 1.8),
    ],
  },
  {
    box: [290, 310, 285, 330],
    area: [358, 375, 556, 575],
    x: [8, 1275, responseTicks],
    y: [-0.55, 2.71, ticksCD],
    datasets: [
      circles([...dBaseline.map(byIndex(1, 5)), ...dBaselineCore.map(byIndex(6, 10)), ...dBaselineCore2.map(byIndex(3, 10))], BLUE, 3, 1.2),
      dots(soloPts, "#000", 1.8),
    ],
  },
  {
    box: [575, 310, 280, 330],
    area: [638, 375, 837, 575],
    x: [1.1, 97.4, countTicks],
    y: [-0.5, 1.5, ticksEF],
    datasets: [
      circles(eBuSorted.map(byIndex(1, 1)), "rgb(40,40,40)", 3.5, 1.2),
      circles(eBuInEb.map(byIndex(1, 1)), BLUE, 4.5, 1.3),
    ],
  },
  {
    box: [855, 310, 273, 330],
    area: [911, 375, 1109, 575],
    x: [1.2, 96.6, countTicks],
    y: [-0.5, 1.5, ticksEF],
    datasets: [
      circles(fEbSorted.map(byIndex(1, 1)), "rgb(40,40,40)", 3.5, 1.2),
      circles(fEbInBu.map(byIndex(1, 1)), BLUE, 4.5, 1.3),
    ],
  },
];

function ChartCanvas({ box, make }: { box: [number, number, number, number]; make: () => any }) {
  const ref = useRef<HTMLCanvasElement>(null);
  useEffect(() => {
    const chart = new Chart(ref.current as HTMLCanvasElement, make());
    return () => chart.destroy();
  }, []);
  const [l, t, w, h] = box;
  return <canvas ref={ref} width={w} height={h} style={{ position: "absolute", left: l, top: t, width: w, height: h }} />;
}

type TxtProps = {
  x: number;
  y: number;
  text: string;
  size?: number;
  color?: string;
  anchor?: "left" | "center" | "right";
  rotate?: boolean;
  bold?: boolean;
  sans?: boolean;
};
function Txt({ x, y, text, size = 22, color = "#000", anchor = "left", rotate = false, bold = false, sans = false }: TxtProps) {
  const tx = anchor === "left" ? "0" : anchor === "center" ? "-50%" : "-100%";
  return (
    <div
      style={{
        position: "absolute",
        left: x,
        top: y,
        transform: rotate ? "translate(-50%,-50%) rotate(-90deg)" : `translate(${tx},-50%)`,
        fontFamily: sans ? SANS : SERIF,
        fontWeight: bold ? 700 : 400,
        fontSize: size,
        lineHeight: 1,
        color,
        whiteSpace: "nowrap",
      }}
    >
      {text}
    </div>
  );
}

export default function App() {
  const LET = 26;
  return (
    <div style={{ position: "absolute", left: 0, top: 0, width: 1128, height: 640, background: "#fff", overflow: "hidden" }}>
      <ChartCanvas box={A_BOX} make={panelAConfig} />
      {panels.map((p, i) => (
        <ChartCanvas key={i} box={p.box} make={() => scatterConfig(p)} />
      ))}

      {/* Panel letters */}
      <Txt x={13} y={26} text="A" size={LET} bold sans />
      <Txt x={577} y={25} text="B" size={LET} bold sans />
      <Txt x={14} y={334} text="C" size={LET} bold sans />
      <Txt x={292} y={334} text="D" size={LET} bold sans />
      <Txt x={577} y={334} text="E" size={LET} bold sans />
      <Txt x={845} y={334} text="F" size={LET} bold sans />

      {/* Panel A text */}
      <Txt x={175} y={18} text="No Background" size={21} anchor="center" />
      <Txt x={175} y={47} text="(Mixture change)" size={22} color={GREEN} anchor="center" />
      <Txt x={453} y={18} text="With Background" size={21} anchor="center" />
      <Txt x={449} y={47} text="(t(B)-baseline)" size={22} color={BLUE} anchor="center" />
      <Txt x={60} y={117} text="-0.04" anchor="right" />
      <Txt x={58} y={139} text="0.17" anchor="right" />
      <Txt x={316} y={147} text="1" anchor="center" />
      <Txt x={449} y={154} text="0.4" anchor="right" />
      <Txt x={105} y={276} text="Ea+Et" anchor="center" />
      <Txt x={173} y={276} text="Ea" anchor="center" />
      <Txt x={246} y={276} text="Et" anchor="center" />
      <Txt x={377} y={277} text="Et(Ea)" anchor="center" />
      <Txt x={508} y={277} text="Ea(Et)" anchor="center" />

      {/* Panel B text */}
      <Txt x={656} y={33} text="Mixture change" color={GREEN} />
      <Txt x={656} y={57} text="t(B)-baseline" color={BLUE} />
      <Txt x={582} y={125} text="Δf/f" rotate />
      <Txt x={730} y={297} text="#Response" anchor="center" />
      <Txt x={981} y={65} text="r= -0.16" />
      <Txt x={870} y={132} text="t(B)-baseline (Δf/f)" rotate />
      <Txt x={1022} y={297} text="Mixture change(Δf/f)" anchor="center" />

      {/* Panel C-F text */}
      <Txt x={82} y={350} text="Solo" />
      <Txt x={82} y={372} text="Mixture change" color={GREEN} />
      <Txt x={18} y={458} text="Δf/f" rotate />
      <Txt x={158} y={625} text="#Response" anchor="center" />

      <Txt x={368} y={350} text="Solo" />
      <Txt x={368} y={372} text="t(B)-baseline" color={BLUE} />
      <Txt x={305} y={458} text="Δf/f" rotate />
      <Txt x={446} y={625} text="#Response" anchor="center" />

      <Txt x={651} y={350} text="Bu" />
      <Txt x={651} y={372} text="Bu(Eb)-baseline" color={BLUE} />
      <Txt x={582} y={458} text="Δf/f" rotate />
      <Txt x={727} y={625} text="#Response" anchor="center" />

      <Txt x={927} y={350} text="Eb" />
      <Txt x={927} y={372} text="Eb(Bu)-baseline" color={BLUE} />
      <Txt x={858} y={458} text="Δf/f" rotate />
      <Txt x={1001} y={625} text="#Response" anchor="center" />
    </div>
  );
}
